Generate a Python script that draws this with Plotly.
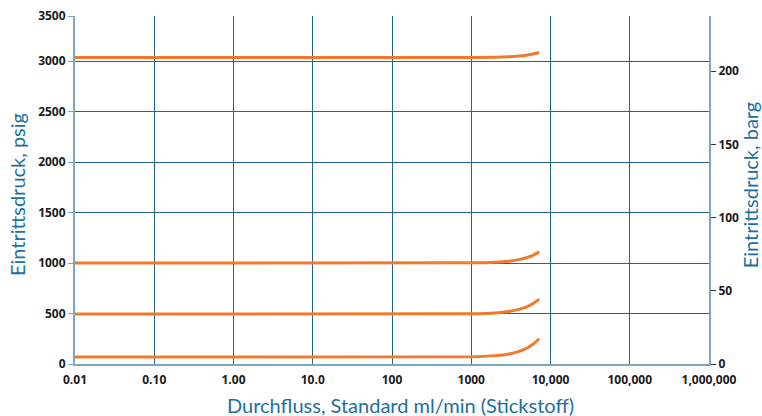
import plotly.graph_objects as go

# Flow (standard ml/min, nitrogen) sample positions
flow = [0.01, 1000, 2000, 3000, 4000, 5000, 6000, 7200]

# Inlet pressure curves, psig
p_3000 = [3036, 3037, 3040, 3045, 3051, 3060, 3071, 3086]
p_1000 = [1000, 1002, 1009, 1019, 1034, 1054, 1077, 1111]
p_500 = [495, 498, 506, 521, 541, 566, 598, 643]
p_100 = [69, 72, 83, 100, 125, 156, 195, 250]

x_tickvals = [0.01, 0.1, 1, 10, 100, 1000, 10000, 100000, 1000000]
x_ticktext = ["0.01", "0.10", "1.00", "10.0", "100", "1000", "10,000", "100,000", "1,000,000"]
# left axis: regular ticks, the top one ("3500") sits at the top of the plotted range
y_tickvals = [0, 500, 1000, 1500, 2000, 2500, 3000]
y_ticktext = ["0", "500", "1000", "1500", "2000", "2500", "3000", "3500"]
y_top = 3448          # psig value at the top edge of the plot (as drawn in the source)
psi_per_bar = 14.5038
y2_tickvals = [0, 50, 100, 150, 200]

x_title = "Durchfluss, Standard ml/min (Stickstoff)"
y_title = "Eintrittsdruck, psig"
y2_title = "Eintrittsdruck, barg"

ORANGE = "#F37A2B"
GRID = "#236487"
AXIS = "#7EA7BF"
TITLE = "#1B70A0"
TICKFONT = dict(family="Open Sans", size=12, color="#1a1a1a", weight="bold")
TITLEFONT = dict(family="Lato", size=20, color=TITLE)

fig = go.Figure()
for ys in [p_3000, p_1000, p_500, p_100]:
    fig.add_trace(go.Scatter(x=flow, y=ys, mode="lines",
                             line=dict(color=ORANGE, width=3, shape="spline", smoothing=0.6),
                             showlegend=False, hoverinfo="skip"))
# invisible trace for right axis
fig.add_trace(go.Scatter(x=[0.01], y=[0], yaxis="y2", mode="markers",
                         marker=dict(opacity=0), showlegend=False, hoverinfo="skip"))

fig.update_layout(
    width=762, height=416,
    margin=dict(l=75, r=53, t=16, b=52),
    paper_bgcolor="white", plot_bgcolor="white",
    font=dict(family="Open Sans", color="#1a1a1a"),
    xaxis=dict(type="log", range=[-2, 6], tickvals=x_tickvals, ticktext=x_ticktext,
               showgrid=True, gridcolor=GRID, gridwidth=1, automargin=False,
               showline=True, linecolor=AXIS, linewidth=2, zeroline=False,
               ticks="", ticklabelstandoff=4, tickfont=TICKFONT),
    yaxis=dict(range=[0, y_top], tickvals=y_tickvals + [y_top], ticktext=y_ticktext,
               automargin=False,
               showgrid=True, gridcolor=GRID, gridwidth=1,
               showline=True, linecolor=AXIS, linewidth=2, zeroline=False,
               ticks="outside", ticklen=5, tickcolor=AXIS, tickfont=TICKFONT),
    yaxis2=dict(overlaying="y", side="right", range=[0, y_top / psi_per_bar],
                tickvals=y2_tickvals,
                showgrid=False, showline=True, linecolor=AXIS, linewidth=2, zeroline=False,
                automargin=False,
                ticks="outside", ticklen=5, tickcolor="#333333", tickfont=TICKFONT),
    annotations=[
        dict(text=x_title, xref="paper", yref="paper", x=0.514, y=-0.118,
             xanchor="center", yanchor="middle", showarrow=False, font=TITLEFONT),
        dict(text=y_title, xref="paper", yref="paper", x=-0.0915, y=0.4885,
             xanchor="center", yanchor="middle", textangle=-90, showarrow=False, font=TITLEFONT),
        dict(text=y2_title, xref="paper", yref="paper", x=1.0648, y=0.514,
             xanchor="center", yanchor="middle", textangle=-90, showarrow=False, font=TITLEFONT),
    ],
)

fig.write_html("out.html", config={"displayModeBar": False},
               post_script="document.body.style.margin='0px';")
